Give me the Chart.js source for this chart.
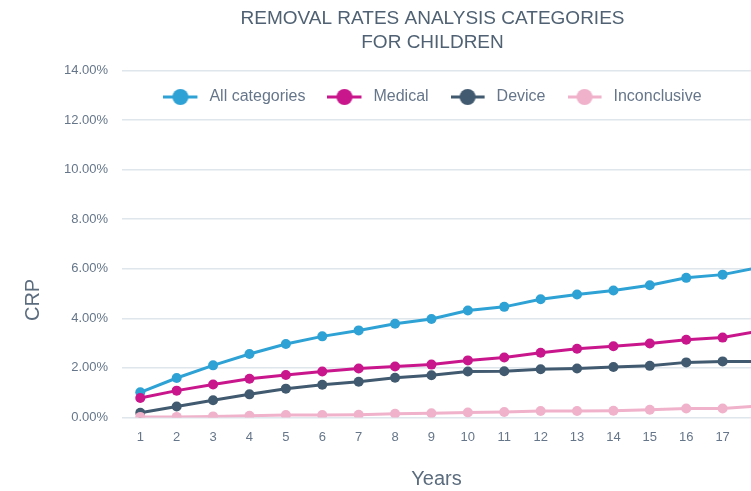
<!DOCTYPE html>
<html>
<head>
<meta charset="utf-8">
<script src="https://cdn.jsdelivr.net/npm/chart.js@4/dist/chart.umd.min.js"></script>
<style>
  html, body { margin: 0; padding: 0; background: #ffffff; overflow: hidden; }
  #wrap { position: relative; width: 751px; height: 491px; }
</style>
</head>
<body>
<div id="wrap"><canvas id="c"></canvas></div>
<script>
// ---- data ----
const years = [1, 2, 3, 4, 5, 6, 7, 8, 9, 10, 11, 12, 13, 14, 15, 16, 17, 18];
const seriesNames = ['All categories', 'Medical', 'Device', 'Inconclusive'];
const allCategories = [1.01, 1.59, 2.10, 2.56, 2.96, 3.27, 3.51, 3.78, 3.97, 4.31, 4.46, 4.77, 4.96, 5.12, 5.33, 5.63, 5.76, 6.05];
const medical       = [0.78, 1.08, 1.33, 1.56, 1.71, 1.85, 1.97, 2.05, 2.13, 2.30, 2.42, 2.61, 2.77, 2.87, 2.98, 3.13, 3.22, 3.48];
const device        = [0.19, 0.44, 0.69, 0.93, 1.16, 1.32, 1.44, 1.60, 1.70, 1.85, 1.86, 1.94, 1.97, 2.03, 2.08, 2.22, 2.26, 2.26];
const inconclusive  = [0.02, 0.02, 0.04, 0.07, 0.10, 0.10, 0.11, 0.15, 0.17, 0.20, 0.22, 0.26, 0.26, 0.27, 0.31, 0.36, 0.36, 0.46];
const yTicks = [0, 2, 4, 6, 8, 10, 12, 14];
const chartTitle = ['REMOVAL RATES ANALYSIS CATEGORIES', 'FOR CHILDREN'];

// ---- styles ----
const colors = ['#2ea2d5', '#c9168c', '#415a6f', '#f0b2ca'];
const FONT = "'Liberation Sans', Arial, Helvetica, sans-serif";
const textColor = '#66768a';
const gridColor = '#dfe6ec';

function legendIcon(color) {
  const cv = document.createElement('canvas');
  cv.width = 38; cv.height = 18;
  const g = cv.getContext('2d');
  g.strokeStyle = color; g.lineWidth = 3;
  g.beginPath(); g.moveTo(0, 9); g.lineTo(34, 9); g.stroke();
  g.fillStyle = color;
  g.beginPath(); g.arc(17, 9, 8, 0, Math.PI * 2); g.fill();
  return cv;
}
const icons = colors.map(legendIcon);

const seriesData = [allCategories, medical, device, inconclusive];
const datasets = seriesData.map((d, i) => ({
  label: seriesNames[i],
  data: d,
  borderColor: colors[i],
  backgroundColor: colors[i],
  borderWidth: 3,
  pointRadius: 5,
  pointHoverRadius: 5,
  pointBorderWidth: 0,
  pointBackgroundColor: colors[i],
  tension: 0,
  fill: false,
  order: 4 - i
}));

// plugin: place legend inside plot area, recentre title/legend, shift y title
const layoutTweaks = {
  id: 'layoutTweaks',
  beforeLayout(chart) {
    const lg = chart.legend;
    if (lg && !lg.__patched) {
      const fit = lg.fit;
      lg.fit = function () { fit.call(this); this.__h = this.height; this.height = 0; };
      lg.__patched = true;
    }
  },
  afterLayout(chart) {
    const L = 114, R = 751;
    const tb = chart.titleBlock;
    if (tb) { tb.left = L; tb.right = R; tb.width = R - L; }
    const lg = chart.legend;
    if (lg) {
      lg.height = lg.__h;
      lg.top = 95 - 20 - 8;
      lg.bottom = lg.top + lg.height;
      lg.left = L; lg.right = R; lg.width = R - L;
    }
    const ys = chart.scales.y;
    if (ys && !ys.__patched) {
      const orig = ys.drawTitle;
      ys.drawTitle = function () {
        const ctx = this.ctx;
        ctx.save(); ctx.translate(0, 56); orig.apply(this, arguments); ctx.restore();
      };
      ys.__patched = true;
    }
  }
};

const defaultGen = Chart.defaults.plugins.legend.labels.generateLabels;

new Chart(document.getElementById('c'), {
  type: 'line',
  data: { labels: years, datasets },
  plugins: [layoutTweaks],
  options: {
    responsive: true,
    maintainAspectRatio: false,
    animation: false,
    layout: { autoPadding: false, padding: { left: 0, right: 0, top: 0, bottom: 0 } },
    plugins: {
      title: {
        display: true,
        text: chartTitle,
        color: '#4f6173',
        font: { family: FONT, size: 19, weight: 'normal', lineHeight: 1.3 },
        padding: { top: 6, bottom: 15 }
      },
      legend: {
        display: true,
        position: 'top',
        labels: {
          usePointStyle: true,
          pointStyleWidth: 38,
          boxHeight: 16,
          padding: 22,
          color: textColor,
          font: { family: FONT, size: 16 },
          sort: (a, b) => a.datasetIndex - b.datasetIndex,
          generateLabels(chart) {
            const items = defaultGen(chart);
            items.forEach(it => { it.pointStyle = icons[it.datasetIndex]; it.lineWidth = 0; });
            return items;
          }
        }
      },
      tooltip: { enabled: false }
    },
    scales: {
      x: {
        type: 'linear',
        min: 0.5,
        max: 17.78,
        grid: { display: false, drawTicks: false },
        border: { display: false },
        afterBuildTicks: (scale) => {
          scale.ticks = years.filter(v => v >= scale.min && v <= scale.max).map(v => ({ value: v }));
        },
        ticks: {
          stepSize: 1,
          autoSkip: false,
          maxRotation: 0,
          padding: 12,
          color: textColor,
          font: { family: FONT, size: 13 },
          callback: (v) => String(v)
        },
        title: {
          display: true,
          text: 'Years',
          color: '#5b6c7e',
          font: { family: FONT, size: 20 },
          padding: { top: 10, bottom: 0 }
        }
      },
      y: {
        min: 0,
        max: 14,
        afterBuildTicks: (scale) => { scale.ticks = yTicks.map(v => ({ value: v })); },
        grid: { color: gridColor, lineWidth: 1.5, drawTicks: false },
        border: { display: false },
        ticks: {
          stepSize: 2,
          padding: 14,
          color: textColor,
          font: { family: FONT, size: 13 },
          callback: (v) => Number(v).toFixed(2) + '%'
        },
        title: {
          display: true,
          text: 'CRP',
          color: '#5b6c7e',
          font: { family: FONT, size: 20 },
          padding: { top: 21, bottom: 5 }
        }
      }
    }
  }
});
</script>
</body>
</html>
